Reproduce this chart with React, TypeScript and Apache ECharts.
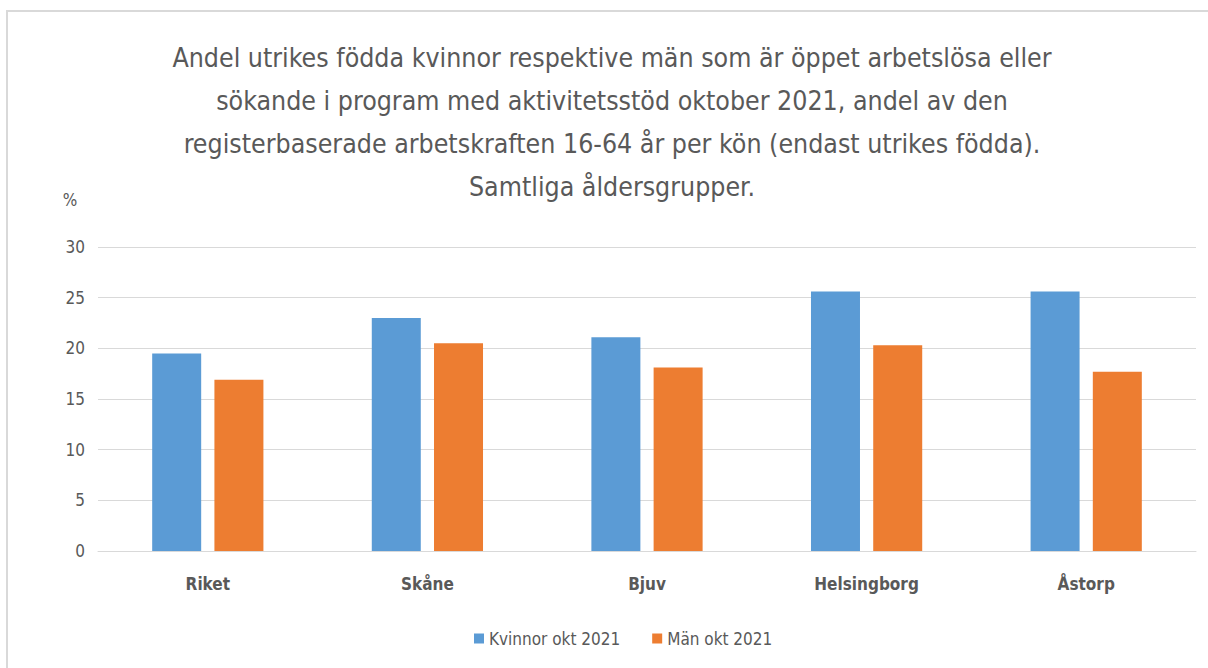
import React, { useEffect, useRef } from "react";
import * as echarts from "echarts";

const categories = ["Riket", "Skåne", "Bjuv", "Helsingborg", "Åstorp"];
const kvinnor = [19.5, 23.0, 21.1, 25.6, 25.6];
const man = [16.9, 20.5, 18.1, 20.3, 17.7];
const seriesNames = ["Kvinnor okt 2021", "Män okt 2021"];
const titleLines = [
  "Andel utrikes födda kvinnor respektive män som är öppet arbetslösa eller",
  "sökande i program med aktivitetsstöd oktober 2021, andel av den",
  "registerbaserade arbetskraften 16-64 år per kön (endast utrikes födda).",
  "Samtliga åldersgrupper.",
];
const yUnit = "%";

const FONT = "'Liberation Sans Narrow', 'DejaVu Sans Condensed', 'Liberation Sans', sans-serif";
const GRAY = "#595959";

export default function App() {
  const ref = useRef<HTMLDivElement>(null);
  useEffect(() => {
    if (!ref.current) return;
    const chart = echarts.init(ref.current, undefined, { renderer: "svg" });
    chart.setOption({
      animation: false,
      backgroundColor: "#ffffff",
      textStyle: { fontFamily: FONT },
      title: {
        text: titleLines.join("\n"),
        left: 612,
        textAlign: "center",
        top: 36,
        padding: 0,
        textStyle: {
          fontFamily: FONT,
          fontSize: 26.5,
          fontWeight: "normal",
          color: GRAY,
          lineHeight: 43,
        },
      },
      graphic: [
        {
          type: "polyline",
          shape: { points: [[7, 668], [7, 11], [1208, 11]] },
          style: { fill: "none", stroke: "#d9d9d9", lineWidth: 2 },
          silent: true,
        },
        {
          type: "text",
          x: 70,
          y: 200,
          style: {
            text: yUnit,
            fontFamily: FONT,
            fontSize: 17,
            fill: GRAY,
            textAlign: "center",
            textVerticalAlign: "middle",
          },
        },
      ],
      legend: {
        data: seriesNames,
        left: 469,
        top: 625,
        itemWidth: 10,
        itemHeight: 10,
        itemGap: 32,
        icon: "rect",
        textStyle: { fontFamily: FONT, fontSize: 17, color: GRAY },
      },
      grid: { left: 98, right: 12, top: 247, bottom: 117, containLabel: false },
      xAxis: {
        type: "category",
        data: categories,
        axisLine: { show: true, lineStyle: { color: "#d9d9d9", width: 1 } },
        axisTick: { show: false },
        axisLabel: {
          color: GRAY,
          fontFamily: FONT,
          fontSize: 17,
          fontWeight: "bold",
          margin: 24,
        },
      },
      yAxis: {
        type: "value",
        min: 0,
        max: 30,
        interval: 5,
        axisLine: { show: false },
        axisTick: { show: false },
        splitLine: { lineStyle: { color: "#d9d9d9", width: 1 } },
        axisLabel: { color: GRAY, fontFamily: FONT, fontSize: 17, margin: 13 },
      },
      series: [
        {
          name: seriesNames[0],
          type: "bar",
          data: kvinnor,
          barWidth: 49,
          barGap: "27%",
          itemStyle: { color: "#5b9bd5" },
        },
        {
          name: seriesNames[1],
          type: "bar",
          data: man,
          barWidth: 49,
          itemStyle: { color: "#ed7d31" },
        },
      ],
    });
    return () => chart.dispose();
  }, []);
  return (
    <div
      ref={ref}
      style={{ position: "absolute", left: 0, top: 0, width: 1208, height: 668 }}
    />
  );
}
